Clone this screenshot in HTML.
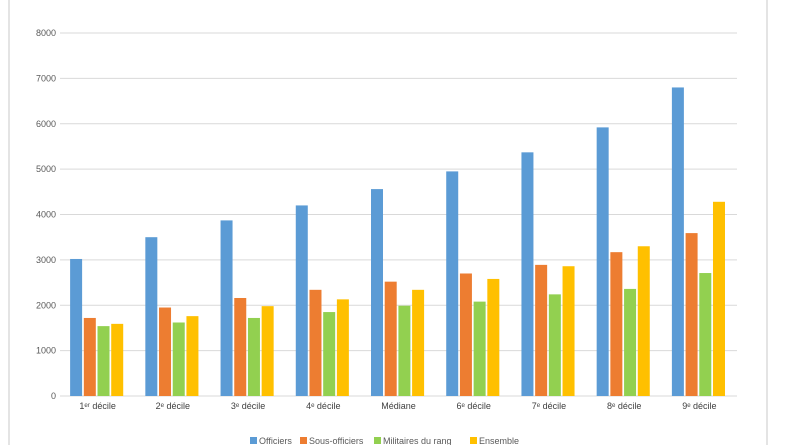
<!DOCTYPE html>
<html><head><meta charset="utf-8"><style>
body{margin:0;background:#fff;}
svg{display:block;font-family:"Liberation Sans",sans-serif;}
</style></head><body>
<svg width="792" height="445" viewBox="0 0 792 445" xmlns="http://www.w3.org/2000/svg">
<rect x="8" y="0" width="2" height="445" fill="#e4e4e4"/>
<rect x="766" y="0" width="2" height="445" fill="#e4e4e4"/>
<g id="grid"></g><g id="bars"></g><g id="labels"></g>
<g font-size="9" fill="#595959">
<rect x="250" y="437" width="7" height="7" fill="#5b9bd5"/><text x="259" y="444">Officiers</text>
<rect x="300" y="437" width="7" height="7" fill="#ed7d31"/><text x="309" y="444">Sous-officiers</text>
<rect x="374" y="437" width="7" height="7" fill="#92d050"/><text x="383" y="444">Militaires du rang</text>
<rect x="470" y="437" width="7" height="7" fill="#ffc000"/><text x="479" y="444">Ensemble</text>
</g>
</svg>
<script>
const categories=["1ᵉʳ décile","2ᵉ décile","3ᵉ décile","4ᵉ décile","Médiane","6ᵉ décile","7ᵉ décile","8ᵉ décile","9ᵉ décile"];
const officiers=[3020,3500,3870,4200,4560,4950,5370,5920,6800];
const sousOfficiers=[1720,1950,2160,2340,2520,2700,2890,3170,3590];
const militaires=[1540,1620,1720,1850,1990,2080,2240,2360,2710];
const ensemble=[1590,1760,1980,2130,2340,2580,2860,3300,4280];
const ticks=[0,1000,2000,3000,4000,5000,6000,7000,8000];
const seriesNames=["officiers","sous-officiers","militaires-du-rang","ensemble"];
const colors=["#5b9bd5","#ed7d31","#92d050","#ffc000"];
const ns="http://www.w3.org/2000/svg";
const x0=60,x1=737,y0=396,y1=33,vmax=8000;
const y=v=>y0-(v/vmax)*(y0-y1);
const bw=(x1-x0)/categories.length;
const xc=i=>x0+bw*(i+0.5);
function mk(t,a,p){const e=document.createElementNS(ns,t);for(const k in a)e.setAttribute(k,a[k]);p.appendChild(e);return e;}
const g=document.getElementById('grid'),b=document.getElementById('bars'),l=document.getElementById('labels');
ticks.forEach(t=>{
 const ln=mk('line',{x1:x0,x2:x1,y1:y(t),y2:y(t),stroke:'#d9d9d9','stroke-width':1},g);
 
 
 const tx=mk('text',{x:x0-4,y:y(t)+3,'text-anchor':'end','font-size':9,fill:'#595959'},g);
 tx.textContent=t;
 
 
});
const all=[officiers,sousOfficiers,militaires,ensemble];
categories.forEach((c,i)=>{
 all.forEach((s,j)=>{
  const x=xc(i)-27.5+j*13.7;
  const r=mk('rect',{x:x,y:y(s[i]),width:12,height:y0-y(s[i]),fill:colors[j]},b);
  
  
 });
 const t=mk('text',{x:xc(i),y:409,'text-anchor':'middle','font-size':9,fill:'#404040'},l);
 t.textContent=c;
 
 
});
</script>
</body></html>
